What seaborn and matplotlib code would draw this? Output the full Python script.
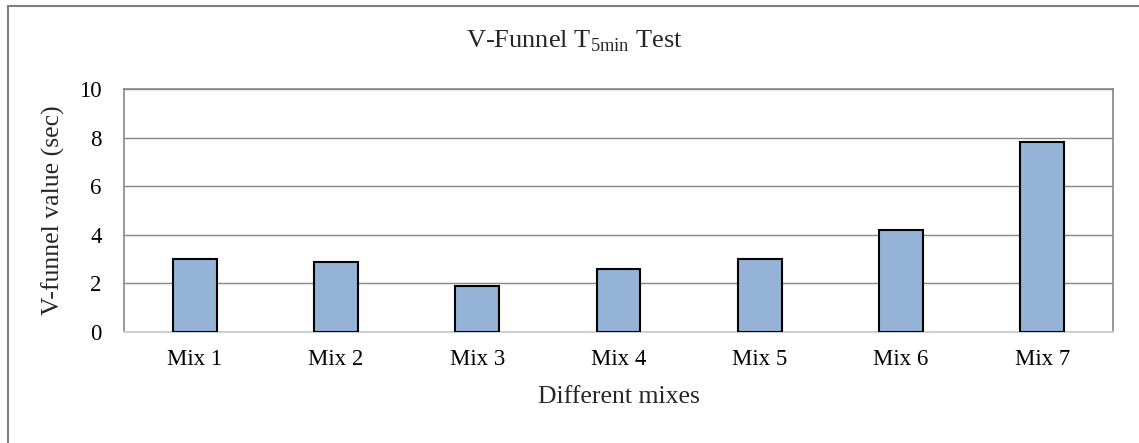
import matplotlib
matplotlib.use("Agg")
import matplotlib.pyplot as plt
import seaborn as sns
import pandas as pd
from matplotlib.patches import Rectangle

mixes = ["Mix 1", "Mix 2", "Mix 3", "Mix 4", "Mix 5", "Mix 6", "Mix 7"]
vfunnel = [3.0, 2.9, 1.9, 2.6, 3.0, 4.2, 7.8]
yticks = [0, 2, 4, 6, 8, 10]

sns.set_theme(style="white")
plt.rcParams["font.family"] = ["Liberation Serif", "DejaVu Serif"]
plt.rcParams["mathtext.fontset"] = "custom"
plt.rcParams["mathtext.rm"] = "Liberation Serif"

W, H = 1139, 443
fig = plt.figure(figsize=(W / 100, H / 100), dpi=100)
ax = fig.add_axes([124 / W, 1 - 332 / H, (1113 - 124) / W, (332 - 89) / H])

df = pd.DataFrame({"mix": mixes, "value": vfunnel})
sns.barplot(data=df, x="mix", y="value", ax=ax, color="#95B3D7",
            saturation=1, width=0.31, edgecolor="black", linewidth=1.5, zorder=3)

ax.set_ylim(0, 10)
ax.set_yticks(yticks)
ax.set_yticklabels([str(v) for v in yticks])
ax.set_xlim(-0.5, len(mixes) - 0.5)
ax.yaxis.grid(True, color="#868686", linewidth=1.0, zorder=0)
ax.set_axisbelow(True)

for side in ["left", "top", "right"]:
    ax.spines[side].set_color("#868686")
    ax.spines[side].set_linewidth(1.2)
ax.spines["bottom"].set_color("#d0d0d0")
ax.spines["bottom"].set_linewidth(1.5)

ax.tick_params(axis="both", length=0, labelsize=16.5, colors="black")
ax.tick_params(axis="y", pad=16)
ax.tick_params(axis="x", pad=12)

ax.set_xlabel("Different mixes", fontsize=18.5, labelpad=12)
ax.set_ylabel("V-funnel value (sec)", fontsize=18.5, labelpad=10)

fig.text(574 / W, 1 - 48 / H, r"V-Funnel T$_{\mathregular{5min}}$ Test",
         ha="center", va="baseline", fontsize=19)

# outer chart-area frame
fig.patches.append(Rectangle((7.5 / W, -0.1), 1.2, 1 - 5.5 / H + 0.1,
                             transform=fig.transFigure, fill=False,
                             edgecolor="#7f7f7f", linewidth=1.5))

fig.savefig("out.png", dpi=100)
